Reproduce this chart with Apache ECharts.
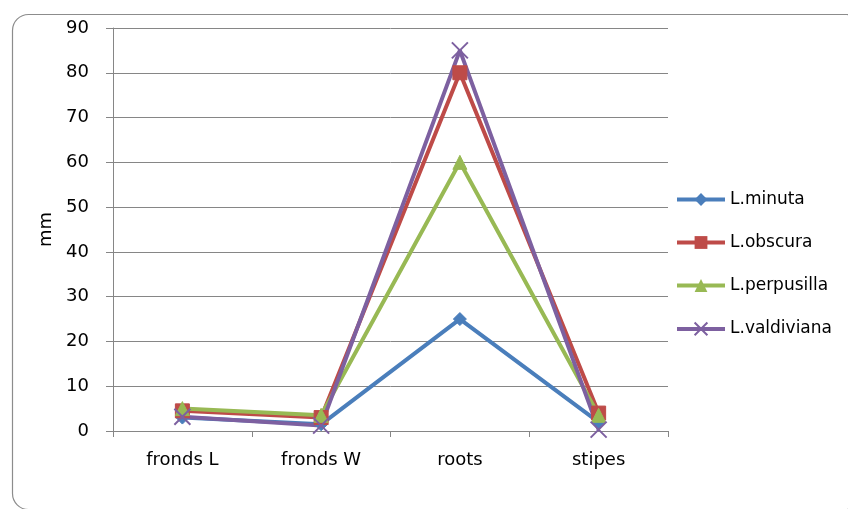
<!DOCTYPE html>
<html><head><meta charset="utf-8">
<script src="https://cdn.jsdelivr.net/npm/echarts@6/dist/echarts.min.js"></script>
<style>html,body{margin:0;padding:0;background:#fff}#c{width:848px;height:509px}</style>
</head><body><div id="c"></div>
<script>
const categories = ['fronds L', 'fronds W', 'roots', 'stipes'];
const minuta = [3, 1.5, 25, 2];
const obscura = [4.5, 3, 80, 4];
const perpusilla = [5, 3.5, 60, 3.5];
const valdiviana = [3.2, 1.2, 85, 0.3];
const seriesNames = ['L.minuta', 'L.obscura', 'L.perpusilla', 'L.valdiviana'];
const yTicks = [0, 10, 20, 30, 40, 50, 60, 70, 80, 90];

const colors = ['#4A7EBB', '#BE4B48', '#98B954', '#7D60A0'];
const symbols = ['diamond', 'rect', 'triangle', 'path://M0,0L10,10M10,0L0,10'];
const sizes = [13, 14, 14, 16];
const data = [minuta, obscura, perpusilla, valdiviana];
const font = '"DejaVu Sans", sans-serif';

const chart = echarts.init(document.getElementById('c'), null, {renderer: 'canvas'});
chart.setOption({
  animation: false,
  graphic: [{
    type: 'rect', left: 10, top: 12,
    shape: {width: 850, height: 495, r: 16},
    style: {fill: 'none', stroke: '#8c8c8c', lineWidth: 1.2}, z: -1
  }],
  grid: {left: 113, right: 180, top: 28, bottom: 78},
  legend: {
    orient: 'vertical', left: 670, top: 186, itemGap: 26,
    itemWidth: 48, itemHeight: 16,
    lineStyle: {width: 4},
    textStyle: {fontFamily: font, fontSize: 17, color: '#000'},
    data: seriesNames
  },
  xAxis: {
    type: 'category', data: categories, boundaryGap: true,
    axisLine: {lineStyle: {color: '#868686', width: 1}},
    axisTick: {show: true, length: 6, lineStyle: {color: '#868686'}},
    axisLabel: {fontFamily: font, fontSize: 18, color: '#000', margin: 20}
  },
  yAxis: {
    type: 'value', min: 0, max: 90, interval: 10,
    name: 'mm', nameLocation: 'middle', nameGap: 55, nameRotate: 90,
    nameTextStyle: {fontFamily: font, fontSize: 18, color: '#000'},
    axisLine: {show: true, lineStyle: {color: '#868686'}},
    axisTick: {show: true, length: 7, lineStyle: {color: '#868686'}},
    axisLabel: {fontFamily: font, fontSize: 18, color: '#000', margin: 24,
      formatter: v => yTicks.includes(v) ? String(v) : ''},
    splitLine: {lineStyle: {color: '#868686', width: 1}}
  },
  series: data.map((d, i) => ({
    name: seriesNames[i], type: 'line', data: d,
    symbol: symbols[i], symbolSize: sizes[i],
    lineStyle: {color: colors[i], width: 4},
    itemStyle: i === 3 ? {color: 'none', borderColor: colors[i], borderWidth: 2} : {color: colors[i], borderColor: colors[i]},
    emphasis: {disabled: true}
  }))
});
</script></body></html>
